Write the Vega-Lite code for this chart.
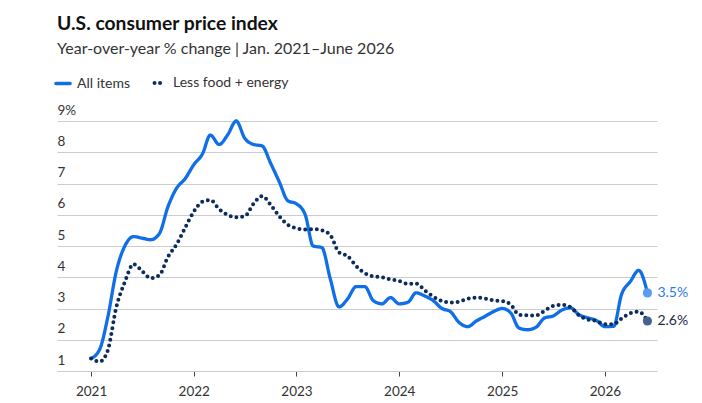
{
  "$schema": "https://vega.github.io/schema/vega-lite/v6.json",
  "width": 600,
  "height": 250,
  "autosize": "none",
  "padding": {"left": 57, "top": 121, "right": 45, "bottom": 32},
  "background": "white",
  "config": {
    "font": "Lato",
    "view": {"stroke": null}
  },
  "title": {
    "text": "U.S. consumer price index",
    "subtitle": "Year-over-year % change | Jan. 2021\u2013June 2026",
    "anchor": "start",
    "frame": "group",
    "offset": 19,
    "font": "Lato",
    "fontSize": 19.3,
    "fontWeight": "bold",
    "color": "#111111",
    "subtitleFont": "Lato",
    "subtitleFontSize": 16,
    "subtitleColor": "#333333",
    "subtitlePadding": 7
  },
  "data": {
    "values": [
      {"date": "2021-01-01", "series": "All items", "value": 1.4},
      {"date": "2021-02-01", "series": "All items", "value": 1.7},
      {"date": "2021-03-01", "series": "All items", "value": 2.7},
      {"date": "2021-04-01", "series": "All items", "value": 4.2},
      {"date": "2021-05-01", "series": "All items", "value": 5.0},
      {"date": "2021-06-01", "series": "All items", "value": 5.3},
      {"date": "2021-07-01", "series": "All items", "value": 5.25},
      {"date": "2021-08-01", "series": "All items", "value": 5.2},
      {"date": "2021-09-01", "series": "All items", "value": 5.4},
      {"date": "2021-10-01", "series": "All items", "value": 6.25},
      {"date": "2021-11-01", "series": "All items", "value": 6.85},
      {"date": "2021-12-01", "series": "All items", "value": 7.15},
      {"date": "2022-01-01", "series": "All items", "value": 7.6},
      {"date": "2022-02-01", "series": "All items", "value": 7.95},
      {"date": "2022-03-01", "series": "All items", "value": 8.55},
      {"date": "2022-04-01", "series": "All items", "value": 8.25},
      {"date": "2022-05-01", "series": "All items", "value": 8.55},
      {"date": "2022-06-01", "series": "All items", "value": 9.0},
      {"date": "2022-07-01", "series": "All items", "value": 8.45},
      {"date": "2022-08-01", "series": "All items", "value": 8.25},
      {"date": "2022-09-01", "series": "All items", "value": 8.2},
      {"date": "2022-10-01", "series": "All items", "value": 7.65},
      {"date": "2022-11-01", "series": "All items", "value": 7.05},
      {"date": "2022-12-01", "series": "All items", "value": 6.45},
      {"date": "2023-01-01", "series": "All items", "value": 6.35},
      {"date": "2023-02-01", "series": "All items", "value": 6.0},
      {"date": "2023-03-01", "series": "All items", "value": 5.0},
      {"date": "2023-04-01", "series": "All items", "value": 4.95},
      {"date": "2023-05-01", "series": "All items", "value": 3.95},
      {"date": "2023-06-01", "series": "All items", "value": 3.05},
      {"date": "2023-07-01", "series": "All items", "value": 3.3},
      {"date": "2023-08-01", "series": "All items", "value": 3.7},
      {"date": "2023-09-01", "series": "All items", "value": 3.7},
      {"date": "2023-10-01", "series": "All items", "value": 3.25},
      {"date": "2023-11-01", "series": "All items", "value": 3.15},
      {"date": "2023-12-01", "series": "All items", "value": 3.35},
      {"date": "2024-01-01", "series": "All items", "value": 3.15},
      {"date": "2024-02-01", "series": "All items", "value": 3.2},
      {"date": "2024-03-01", "series": "All items", "value": 3.5},
      {"date": "2024-04-01", "series": "All items", "value": 3.4},
      {"date": "2024-05-01", "series": "All items", "value": 3.25},
      {"date": "2024-06-01", "series": "All items", "value": 3.0},
      {"date": "2024-07-01", "series": "All items", "value": 2.9},
      {"date": "2024-08-01", "series": "All items", "value": 2.55},
      {"date": "2024-09-01", "series": "All items", "value": 2.42},
      {"date": "2024-10-01", "series": "All items", "value": 2.6},
      {"date": "2024-11-01", "series": "All items", "value": 2.75},
      {"date": "2024-12-01", "series": "All items", "value": 2.9},
      {"date": "2025-01-01", "series": "All items", "value": 3.0},
      {"date": "2025-02-01", "series": "All items", "value": 2.85},
      {"date": "2025-03-01", "series": "All items", "value": 2.38},
      {"date": "2025-04-01", "series": "All items", "value": 2.32},
      {"date": "2025-05-01", "series": "All items", "value": 2.4},
      {"date": "2025-06-01", "series": "All items", "value": 2.7},
      {"date": "2025-07-01", "series": "All items", "value": 2.76},
      {"date": "2025-08-01", "series": "All items", "value": 2.95},
      {"date": "2025-09-01", "series": "All items", "value": 3.02},
      {"date": "2025-10-01", "series": "All items", "value": 2.8},
      {"date": "2025-11-01", "series": "All items", "value": 2.7},
      {"date": "2025-12-01", "series": "All items", "value": 2.62},
      {"date": "2026-01-01", "series": "All items", "value": 2.42},
      {"date": "2026-02-01", "series": "All items", "value": 2.43},
      {"date": "2026-03-01", "series": "All items", "value": 3.45},
      {"date": "2026-04-01", "series": "All items", "value": 3.86},
      {"date": "2026-05-01", "series": "All items", "value": 4.22},
      {"date": "2026-06-01", "series": "All items", "value": 3.5},
      {"date": "2021-01-01", "series": "Less food + energy", "value": 1.4},
      {"date": "2021-02-01", "series": "Less food + energy", "value": 1.3},
      {"date": "2021-03-01", "series": "Less food + energy", "value": 1.65},
      {"date": "2021-04-01", "series": "Less food + energy", "value": 3.05},
      {"date": "2021-05-01", "series": "Less food + energy", "value": 3.85},
      {"date": "2021-06-01", "series": "Less food + energy", "value": 4.42},
      {"date": "2021-07-01", "series": "Less food + energy", "value": 4.2},
      {"date": "2021-08-01", "series": "Less food + energy", "value": 3.97},
      {"date": "2021-09-01", "series": "Less food + energy", "value": 4.07},
      {"date": "2021-10-01", "series": "Less food + energy", "value": 4.65},
      {"date": "2021-11-01", "series": "Less food + energy", "value": 5.05},
      {"date": "2021-12-01", "series": "Less food + energy", "value": 5.58},
      {"date": "2022-01-01", "series": "Less food + energy", "value": 6.1},
      {"date": "2022-02-01", "series": "Less food + energy", "value": 6.42},
      {"date": "2022-03-01", "series": "Less food + energy", "value": 6.47},
      {"date": "2022-04-01", "series": "Less food + energy", "value": 6.18},
      {"date": "2022-05-01", "series": "Less food + energy", "value": 6.0},
      {"date": "2022-06-01", "series": "Less food + energy", "value": 5.92},
      {"date": "2022-07-01", "series": "Less food + energy", "value": 5.95},
      {"date": "2022-08-01", "series": "Less food + energy", "value": 6.35},
      {"date": "2022-09-01", "series": "Less food + energy", "value": 6.6},
      {"date": "2022-10-01", "series": "Less food + energy", "value": 6.32},
      {"date": "2022-11-01", "series": "Less food + energy", "value": 5.95},
      {"date": "2022-12-01", "series": "Less food + energy", "value": 5.68},
      {"date": "2023-01-01", "series": "Less food + energy", "value": 5.57},
      {"date": "2023-02-01", "series": "Less food + energy", "value": 5.53},
      {"date": "2023-03-01", "series": "Less food + energy", "value": 5.54},
      {"date": "2023-04-01", "series": "Less food + energy", "value": 5.5},
      {"date": "2023-05-01", "series": "Less food + energy", "value": 5.35},
      {"date": "2023-06-01", "series": "Less food + energy", "value": 4.8},
      {"date": "2023-07-01", "series": "Less food + energy", "value": 4.68},
      {"date": "2023-08-01", "series": "Less food + energy", "value": 4.36},
      {"date": "2023-09-01", "series": "Less food + energy", "value": 4.13},
      {"date": "2023-10-01", "series": "Less food + energy", "value": 4.03},
      {"date": "2023-11-01", "series": "Less food + energy", "value": 4.0},
      {"date": "2023-12-01", "series": "Less food + energy", "value": 3.93},
      {"date": "2024-01-01", "series": "Less food + energy", "value": 3.88},
      {"date": "2024-02-01", "series": "Less food + energy", "value": 3.79},
      {"date": "2024-03-01", "series": "Less food + energy", "value": 3.8},
      {"date": "2024-04-01", "series": "Less food + energy", "value": 3.58},
      {"date": "2024-05-01", "series": "Less food + energy", "value": 3.38},
      {"date": "2024-06-01", "series": "Less food + energy", "value": 3.24},
      {"date": "2024-07-01", "series": "Less food + energy", "value": 3.19},
      {"date": "2024-08-01", "series": "Less food + energy", "value": 3.22},
      {"date": "2024-09-01", "series": "Less food + energy", "value": 3.31},
      {"date": "2024-10-01", "series": "Less food + energy", "value": 3.35},
      {"date": "2024-11-01", "series": "Less food + energy", "value": 3.32},
      {"date": "2024-12-01", "series": "Less food + energy", "value": 3.26},
      {"date": "2025-01-01", "series": "Less food + energy", "value": 3.24},
      {"date": "2025-02-01", "series": "Less food + energy", "value": 3.12},
      {"date": "2025-03-01", "series": "Less food + energy", "value": 2.8},
      {"date": "2025-04-01", "series": "Less food + energy", "value": 2.78},
      {"date": "2025-05-01", "series": "Less food + energy", "value": 2.78},
      {"date": "2025-06-01", "series": "Less food + energy", "value": 2.93},
      {"date": "2025-07-01", "series": "Less food + energy", "value": 3.08},
      {"date": "2025-08-01", "series": "Less food + energy", "value": 3.12},
      {"date": "2025-09-01", "series": "Less food + energy", "value": 3.04},
      {"date": "2025-10-01", "series": "Less food + energy", "value": 2.78},
      {"date": "2025-11-01", "series": "Less food + energy", "value": 2.65},
      {"date": "2025-12-01", "series": "Less food + energy", "value": 2.6},
      {"date": "2026-01-01", "series": "Less food + energy", "value": 2.5},
      {"date": "2026-02-01", "series": "Less food + energy", "value": 2.5},
      {"date": "2026-03-01", "series": "Less food + energy", "value": 2.68},
      {"date": "2026-04-01", "series": "Less food + energy", "value": 2.85},
      {"date": "2026-05-01", "series": "Less food + energy", "value": 2.9},
      {"date": "2026-06-01", "series": "Less food + energy", "value": 2.6}
    ]
  },
  "encoding": {
    "x": {
      "field": "date",
      "type": "temporal",
      "scale": {
        "type": "utc",
        "domain": [
          {"year": 2020, "month": 9, "date": 2, "utc": true},
          {"year": 2026, "month": 7, "date": 5, "utc": true}
        ]
      },
      "axis": {
        "title": null,
        "format": "%Y",
        "tickCount": "year",
        "grid": false,
        "domainColor": "#cccccc",
        "domainWidth": 1,
        "tickColor": "#444444",
        "tickSize": 5,
        "labelFont": "Lato",
        "labelFontSize": 13.5,
        "labelColor": "#333333",
        "labelPadding": 8
      }
    },
    "y": {
      "field": "value",
      "type": "quantitative",
      "scale": {"domain": [1, 9], "nice": false, "zero": false},
      "axis": {
        "title": null,
        "values": [1, 2, 3, 4, 5, 6, 7, 8, 9],
        "labelExpr": "datum.value == 9 ? '9%' : datum.label",
        "domain": false,
        "ticks": false,
        "gridColor": "#cccccc",
        "gridWidth": 1,
        "labelAlign": "left",
        "labelBaseline": "bottom",
        "labelPadding": 0,
        "labelOffset": -4,
        "labelFont": "Lato",
        "labelFontSize": 13.5,
        "labelColor": "#333333"
      }
    }
  },
  "layer": [
    {
      "mark": {"type": "line", "interpolate": "monotone", "strokeCap": "round", "strokeJoin": "round"},
      "encoding": {
        "color": {
          "field": "series",
          "type": "nominal",
          "scale": {"domain": ["All items", "Less food + energy"], "range": ["#0f6fe8", "#0b2c5c"]},
          "legend": {
            "title": null,
            "orient": "none",
            "legendX": -1,
            "legendY": -45,
            "direction": "horizontal",
            "symbolType": "stroke",
            "symbolSize": 200,
            "symbolStrokeWidth": 3.5,
            "labelFont": "Lato",
            "labelFontSize": 14,
            "labelColor": "#333333",
            "labelOffset": 7,
            "columnPadding": 16,
            "encode": {
              "symbols": {
                "update": {
                  "strokeCap": {"value": "round"},
                  "strokeDash": {"signal": "datum.value == 'Less food + energy' ? [0, 5.5] : [1, 0]"},
                  "size": {"signal": "datum.value == 'Less food + energy' ? 80 : 200"},
                  "strokeWidth": {"signal": "datum.value == 'Less food + energy' ? 4 : 3.5"}
                }
              }
            }
          }
        },
        "strokeDash": {
          "field": "series",
          "type": "nominal",
          "scale": {"domain": ["All items", "Less food + energy"], "range": [[1, 0], [0, 5.8]]},
          "legend": null
        },
        "strokeWidth": {
          "field": "series",
          "type": "nominal",
          "scale": {"domain": ["All items", "Less food + energy"], "range": [3.3, 4]},
          "legend": null
        }
      }
    },
    {
      "transform": [
        {"window": [{"op": "rank", "as": "r"}], "sort": [{"field": "date", "order": "descending"}], "groupby": ["series"]},
        {"filter": "datum.r == 1"}
      ],
      "mark": {"type": "circle", "size": 85, "opacity": 1},
      "encoding": {
        "fill": {
          "field": "series",
          "type": "nominal",
          "scale": {"domain": ["All items", "Less food + energy"], "range": ["#5b9cf0", "#46628e"]},
          "legend": null
        }
      }
    },
    {
      "transform": [
        {"window": [{"op": "rank", "as": "r"}], "sort": [{"field": "date", "order": "descending"}], "groupby": ["series"]},
        {"filter": "datum.r == 1"},
        {"calculate": "format(datum.value, '.1f') + '%'", "as": "label"}
      ],
      "mark": {"type": "text", "align": "left", "baseline": "middle", "dx": 10, "font": "Lato", "fontSize": 14},
      "encoding": {
        "text": {"field": "label"},
        "fill": {
          "field": "series",
          "type": "nominal",
          "scale": {"domain": ["All items", "Less food + energy"], "range": ["#2a7be6", "#1c2a48"]},
          "legend": null
        }
      }
    }
  ],
  "resolve": {"scale": {"color": "independent", "fill": "independent"}}
}
